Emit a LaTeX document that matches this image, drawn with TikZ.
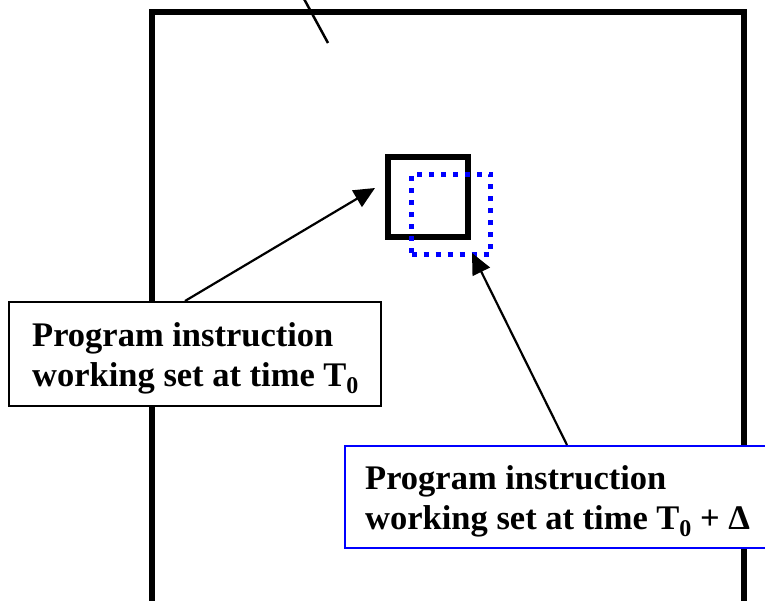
\documentclass[tikz,border=0pt]{standalone}
\usepackage{fontspec}
\setmainfont{Liberation Serif}
\usetikzlibrary{arrows.meta}
\newcommand\subzero{\raisebox{-7pt}{\fontsize{24}{24}\selectfont 0}}
\begin{document}
\begin{tikzpicture}[x=1pt,y=-1pt,
  frame/.style={line width=6pt},
  lblbox/.style={draw, line width=2pt, fill=white, inner sep=0pt, anchor=north west},
  lbltext/.style={font=\fontsize{34.5}{40}\selectfont\bfseries, anchor=base west, inner sep=0pt},
  conn/.style={line width=2.2pt, -{Triangle[length=21pt,width=19pt]}}]
\useasboundingbox (0,0) rectangle (765,601);
\clip (0,0) rectangle (765,601);
% outer frame (open at bottom)
\coordinate (fbl) at (152,620);
\coordinate (ftl) at (152,12);
\coordinate (ftr) at (744,12);
\coordinate (fbr) at (744,620);
\draw[frame] (fbl) -- (ftl) -- (ftr) -- (fbr);
% line at top
\coordinate (p1) at (303,-3);
\coordinate (p2) at (328,43);
\draw[line width=2.5pt] (p1) -- (p2);
% label boxes
\node[lblbox, minimum width=372pt, minimum height=104pt] (lbox) at (8,301) {};
\node[lbltext] (ltext) at (32,346) {\vtop{\baselineskip=40pt\hbox{Program instruction}\hbox{working set at time T\subzero}}};
\node[lblbox, draw=blue, minimum width=460pt, minimum height=102pt] (rbox) at (344,445) {};
\node[lbltext] (rtext) at (365,489) {\vtop{\baselineskip=40pt\hbox{Program instruction}\hbox{working set at time T\subzero{} + \char"0394}}};
% working sets
\node[draw, line width=6pt, minimum width=80pt, minimum height=80pt, inner sep=0pt, anchor=north west] (ws0) at (385,154) {};
\node[draw=blue, line width=5pt, dash pattern=on 5pt off 7pt, minimum width=79pt, minimum height=80pt, inner sep=0pt, anchor=north west] (ws1) at (409,172) {};
% arrows
\coordinate (a1s) at (185,301);
\coordinate (a1e) at (375,188);
\coordinate (a2s) at (567,445);
\coordinate (a2e) at (472,253);
\draw[conn] (a1s) -- (a1e);
\draw[conn] (a2s) -- (a2e);
\end{tikzpicture}
\end{document}
